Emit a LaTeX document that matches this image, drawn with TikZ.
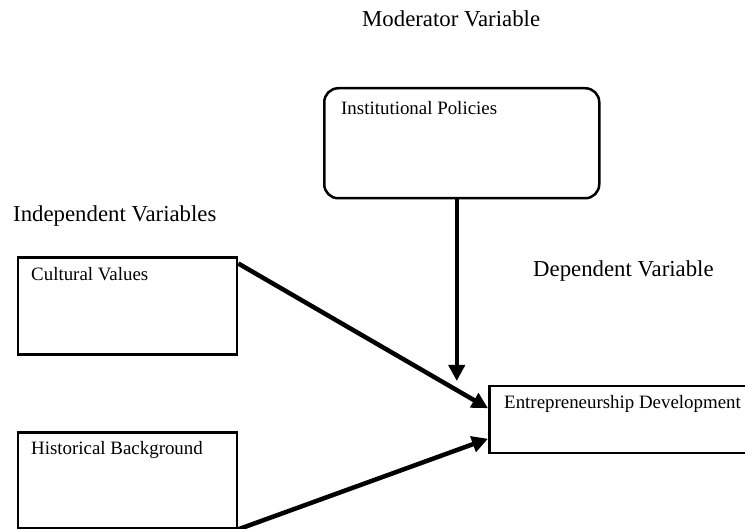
\documentclass[tikz,border=0pt]{standalone}
\usepackage{fontspec}
\setmainfont{Liberation Serif}
\usetikzlibrary{arrows.meta,calc}
\begin{document}
\begin{tikzpicture}[x=1pt,y=-1pt,
  varbox/.style={draw,line width=2.8pt,inner sep=0pt,anchor=north west},
  boxtext/.style={font=\fontsize{18.9}{22}\selectfont,anchor=base west,inner sep=0pt},
  heading/.style={font=\fontsize{22.8}{27}\selectfont,anchor=base west,inner sep=0pt},
  link/.style={line width=4.5pt,-{Triangle[length=16pt,width=16pt]}}]
\useasboundingbox (0,0) rectangle (745,529);
\clip (0,0) rectangle (745,529);

% headings
\node[heading] (hmod) at (362,27) {Moderator Variable};
\node[heading] (hind) at (13,222) {Independent Variables};
\node[heading] (hdep) at (533,277) {Dependent Variable};

% variable boxes
\node[varbox,minimum width=275pt,minimum height=110pt,rounded corners=14pt,line width=2.5pt] (ins) at (323,87) {};
\node[varbox,minimum width=219pt,minimum height=97pt] (cv) at (16.5,256.5) {};
\node[varbox,minimum width=219pt,minimum height=95pt] (hb) at (16.5,431.5) {};
\node[varbox,minimum width=300pt,minimum height=67pt,line width=2.5pt] (ed) at (488,385) {};

% box labels
\node[boxtext] (tins) at (341,115) {Institutional Policies};
\node[boxtext] (tcv) at (31,281) {Cultural Values};
\node[boxtext] (thb) at (31,455) {Historical Background};
\node[boxtext] (ted) at (504,409) {Entrepreneurship Development};

% connectors
\coordinate (drop) at ([xshift=-5pt]ins.south);
\draw[link,shorten >=4pt] (drop) -- (drop |- ed.north);
\draw[link] ([yshift=-7pt]cv.north east) -- ([yshift=11.5pt]ed.west);
\draw[link] (hb.south east) -- ([yshift=-19pt]ed.west);
\end{tikzpicture}
\end{document}
